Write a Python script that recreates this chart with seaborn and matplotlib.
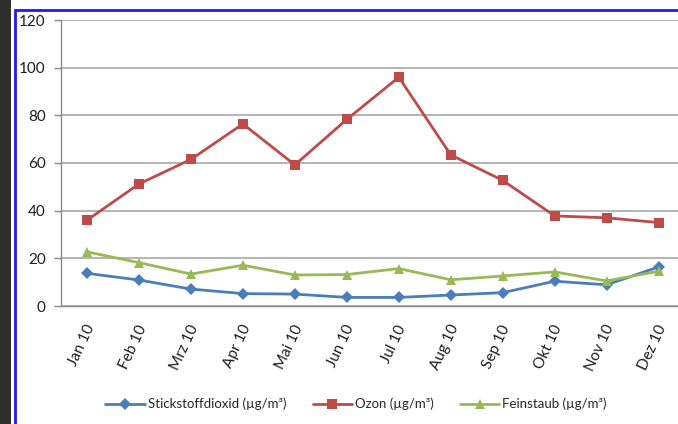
import matplotlib
matplotlib.use("Agg")
import matplotlib.pyplot as plt
from matplotlib.patches import Rectangle
from matplotlib.transforms import ScaledTranslation
import seaborn as sns
import pandas as pd

months = ["Jan 10", "Feb 10", "Mrz 10", "Apr 10", "Mai 10", "Jun 10",
          "Jul 10", "Aug 10", "Sep 10", "Okt 10", "Nov 10", "Dez 10"]
stickstoffdioxid = [13.7, 10.9, 7.1, 5.2, 5.0, 3.6, 3.6, 4.6, 5.6, 10.4, 8.9, 16.4]
ozon = [36.0, 51.2, 61.5, 76.4, 59.2, 78.3, 96.0, 63.4, 52.7, 37.8, 37.0, 35.0]
feinstaub = [22.7, 18.2, 13.4, 17.1, 13.0, 13.2, 15.7, 11.0, 12.6, 14.3, 10.5, 14.6]
series_names = ["Stickstoffdioxid (µg/m³)", "Ozon (µg/m³)", "Feinstaub (µg/m³)"]
y_ticks = [0, 20, 40, 60, 80, 100, 120]

colors = {series_names[0]: "#4a7ebb", series_names[1]: "#be4b48", series_names[2]: "#98b954"}
markers = {series_names[0]: "D", series_names[1]: "s", series_names[2]: "^"}

frames = []
for name, vals in zip(series_names, [stickstoffdioxid, ozon, feinstaub]):
    frames.append(pd.DataFrame({"pos": range(len(months)), "value": vals, "series": name}))
df = pd.concat(frames, ignore_index=True)

sns.set_style("white")
plt.rcParams["font.family"] = ["Lato", "DejaVu Sans"]

fig = plt.figure(figsize=(6.78, 4.24), dpi=100)
fig.patch.set_facecolor("white")

# dark strip on the far left and the blue frame
fig.add_artist(Rectangle((0, 0), 11 / 678, 1, transform=fig.transFigure,
                         facecolor="#2e2e2a", edgecolor="none", zorder=0))
fig.add_artist(Rectangle((14.5 / 678, -0.05), 1.0, 1 - 9.5 / 424 + 0.05,
                         transform=fig.transFigure, facecolor="none",
                         edgecolor="#1a1aff", linewidth=2, zorder=5))

ax = fig.add_axes([61 / 678, 1 - 306 / 424, 623.6 / 678, 286 / 424])
ax.set_facecolor("white")

sns.lineplot(data=df, x="pos", y="value", hue="series", style="series",
             markers=markers, dashes=False, palette=colors, ax=ax,
             linewidth=2, markersize=6.5, markeredgewidth=0, legend=True)

ax.set_xlim(-0.5, len(months) - 0.5)
ax.set_ylim(0, 120)
ax.set_yticks(y_ticks)
ax.set_yticklabels([str(v) for v in y_ticks], fontsize=11, color="#1e1e1e")
ax.set_xticks(range(len(months)))
ax.set_xticklabels(months, rotation=65, ha="right", va="center",
                   rotation_mode="anchor", fontsize=11, color="#1e1e1e")
ax.tick_params(axis="x", length=0, pad=14)
shift = ScaledTranslation(4 / 100, 0, fig.dpi_scale_trans)
for lbl in ax.get_xticklabels():
    lbl.set_transform(lbl.get_transform() + shift)
ax.set_xticks([i - 0.5 for i in range(len(months) + 1)], minor=True)
ax.tick_params(axis="x", which="minor", length=5, color="#8a8a8a", width=1)
ax.tick_params(axis="y", length=5, color="#8a8a8a", width=1, pad=6, left=True)
ax.set_xlabel("")
ax.set_ylabel("")

ax.yaxis.grid(True, color="#a8a8a8", linewidth=1.2)
ax.set_axisbelow(True)
for side in ["top", "right"]:
    ax.spines[side].set_visible(False)
for side in ["left", "bottom"]:
    ax.spines[side].set_color("#8a8a8a")
    ax.spines[side].set_linewidth(1)

handles, labels = ax.get_legend_handles_labels()
ax.legend(handles, labels, loc="center", bbox_to_anchor=(356 / 678, 1 - 404 / 424),
          bbox_transform=fig.transFigure, ncol=3, frameon=False, fontsize=9.5,
          handlelength=3, handletextpad=0.2, columnspacing=2)

fig.savefig("out.png", dpi=100)
